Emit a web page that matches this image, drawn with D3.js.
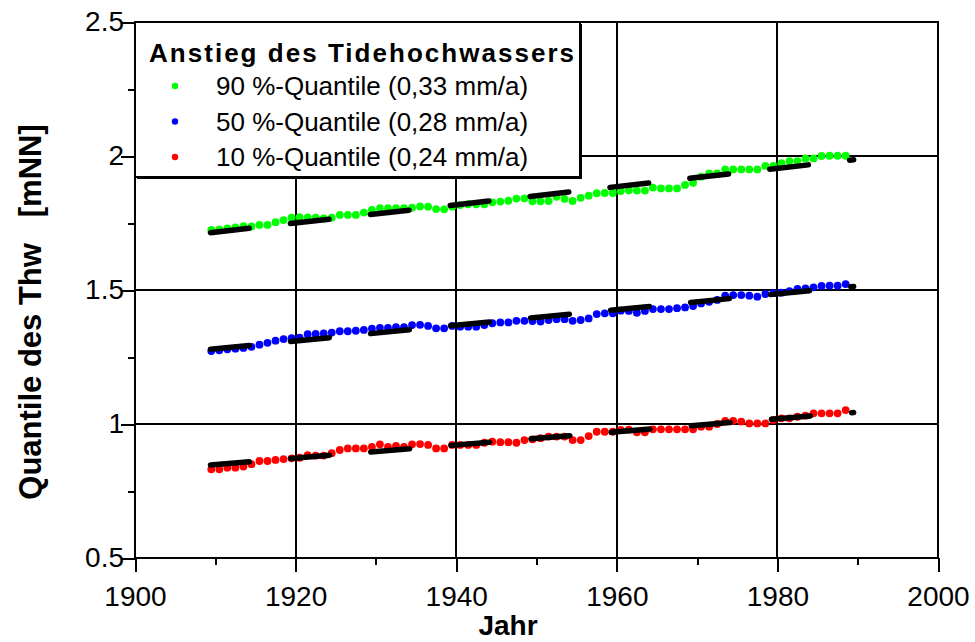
<!DOCTYPE html>
<html>
<head>
<meta charset="utf-8">
<script src="https://cdn.jsdelivr.net/npm/d3@7/dist/d3.min.js"></script>
<style>
  body { margin: 0; background: #fff; }
  svg text { font-family: "Liberation Sans", Arial, sans-serif; fill: #000; }
</style>
</head>
<body>
<div id="chart"></div>
<script>
// yearly Thw quantiles (mNN), hydrological years 1909 - 1988
var years = d3.range(1909, 1989);

var q90 = [
  1.724, 1.726, 1.730, 1.734, 1.738, 1.737, 1.743, 1.743, 1.753, 1.761,
  1.770, 1.772, 1.771, 1.770, 1.767, 1.770, 1.780, 1.780, 1.780, 1.789,
  1.799, 1.805, 1.805, 1.805, 1.805, 1.807, 1.812, 1.811, 1.802, 1.801,
  1.811, 1.817, 1.820, 1.820, 1.820, 1.827, 1.830, 1.833, 1.841, 1.842,
  1.831, 1.831, 1.832, 1.848, 1.840, 1.832, 1.844, 1.852, 1.861, 1.862,
  1.862, 1.869, 1.872, 1.871, 1.871, 1.882, 1.879, 1.879, 1.879, 1.892,
  1.900, 1.923, 1.935, 1.935, 1.950, 1.950, 1.950, 1.950, 1.950, 1.963,
  1.963, 1.973, 1.981, 1.981, 1.991, 1.991, 2.000, 2.001, 2.001, 2.001
];

var q50 = [
  1.272, 1.275, 1.279, 1.281, 1.284, 1.288, 1.296, 1.303, 1.311, 1.317,
  1.320, 1.322, 1.335, 1.336, 1.338, 1.341, 1.346, 1.346, 1.348, 1.351,
  1.356, 1.359, 1.359, 1.361, 1.361, 1.369, 1.370, 1.366, 1.357, 1.357,
  1.366, 1.363, 1.363, 1.363, 1.369, 1.376, 1.379, 1.379, 1.385, 1.385,
  1.384, 1.382, 1.388, 1.391, 1.391, 1.385, 1.388, 1.394, 1.410, 1.413,
  1.413, 1.423, 1.422, 1.415, 1.422, 1.429, 1.429, 1.429, 1.432, 1.435,
  1.440, 1.450, 1.456, 1.463, 1.479, 1.481, 1.481, 1.479, 1.475, 1.485,
  1.488, 1.490, 1.496, 1.504, 1.506, 1.510, 1.515, 1.516, 1.516, 1.522
];

var q10 = [
  0.831, 0.831, 0.837, 0.837, 0.841, 0.850, 0.862, 0.862, 0.866, 0.869,
  0.872, 0.874, 0.884, 0.882, 0.882, 0.891, 0.903, 0.909, 0.909, 0.909,
  0.915, 0.924, 0.915, 0.918, 0.915, 0.924, 0.925, 0.922, 0.909, 0.909,
  0.922, 0.922, 0.922, 0.922, 0.930, 0.934, 0.932, 0.932, 0.930, 0.940,
  0.943, 0.947, 0.953, 0.953, 0.953, 0.940, 0.940, 0.955, 0.971, 0.971,
  0.971, 0.978, 0.979, 0.969, 0.969, 0.980, 0.980, 0.980, 0.980, 0.980,
  0.980, 0.990, 0.990, 1.000, 1.012, 1.012, 1.009, 1.002, 1.002, 1.002,
  1.015, 1.021, 1.021, 1.027, 1.031, 1.040, 1.040, 1.040, 1.040, 1.052
];

// linear trends, start / end of fitted line
var trendYears = [1909.4, 1989.5];
var trend90 = [1.714, 1.986];
var trend50 = [1.279, 1.513];
var trend10 = [0.847, 1.043];

var legendTitle = "Anstieg des Tidehochwassers";
var seriesNames = ["90 %-Quantile (0,33 mm/a)", "50 %-Quantile (0,28 mm/a)", "10 %-Quantile (0,24 mm/a)"];
var seriesColors = ["#00ff00", "#0000ff", "#ff0000"];

var xTicks = [1900, 1920, 1940, 1960, 1980, 2000];
var xMinorTicks = [1910, 1930, 1950, 1970, 1990];
var yTicks = [0.5, 1, 1.5, 2, 2.5];
var yTickLabels = ["0.5", "1", "1.5", "2", "2.5"];
var yMinorTicks = [0.75, 1.25, 1.75, 2.25];
var xTitle = "Jahr";
var yTitle = "Quantile des Thw   [mNN]";

(function() {
  var width = 975, height = 642;
  var margin = { top: 22, right: 37, bottom: 84, left: 135 };
  var svg, x, y, series, trends, legend;

  svg = d3.select("#chart").append("svg")
    .attr("width", width).attr("height", height);

  x = d3.scaleLinear().domain([1900, 2000]).range([margin.left, width - margin.right]);
  y = d3.scaleLinear().domain([0.5, 2.5]).range([height - margin.bottom, margin.top]);

  // grid at the major ticks
  svg.append("g").selectAll("line").data(xTicks.slice(1, -1)).enter().append("line")
    .attr("x1", function(d) { return x(d); }).attr("x2", function(d) { return x(d); })
    .attr("y1", y(0.5)).attr("y2", y(2.5))
    .style("stroke", "#000").style("stroke-width", 2).style("shape-rendering", "crispEdges");
  svg.append("g").selectAll("line").data(yTicks.slice(1, -1)).enter().append("line")
    .attr("x1", x(1900)).attr("x2", x(2000))
    .attr("y1", function(d) { return y(d); }).attr("y2", function(d) { return y(d); })
    .style("stroke", "#000").style("stroke-width", 2).style("shape-rendering", "crispEdges");

  // axes: minor ticks first, then majors with labels
  svg.append("g").attr("transform", "translate(0," + y(0.5) + ")")
    .call(d3.axisBottom(x).tickValues(xMinorTicks).tickSize(7).tickFormat(""));
  svg.append("g").attr("class", "axis-x").attr("transform", "translate(0," + y(0.5) + ")")
    .call(d3.axisBottom(x).tickValues(xTicks).tickSize(14).tickPadding(14).tickFormat(d3.format("d")));
  svg.append("g").attr("transform", "translate(" + x(1900) + ",0)")
    .call(d3.axisLeft(y).tickValues(yMinorTicks).tickSize(7).tickFormat(""));
  svg.append("g").attr("class", "axis-y").attr("transform", "translate(" + x(1900) + ",0)")
    .call(d3.axisLeft(y).tickValues(yTicks).tickSize(14).tickPadding(-3)
      .tickFormat(function(d, i) { return yTickLabels[i]; }));

  svg.selectAll(".domain").remove();
  svg.selectAll(".tick line").style("stroke", "#000").style("stroke-width", 2)
    .style("shape-rendering", "crispEdges");
  svg.selectAll(".axis-x text, .axis-y text")
    .style("font-size", "28px").style("font-family", "'Liberation Sans', Arial, sans-serif")
    .style("fill", "#000");

  // frame
  svg.append("rect")
    .attr("x", x(1900)).attr("y", y(2.5))
    .attr("width", x(2000) - x(1900)).attr("height", y(0.5) - y(2.5))
    .style("fill", "none").style("stroke", "#000").style("stroke-width", 2.5)
    .style("shape-rendering", "crispEdges");

  // points (plotted at mid-year)
  series = [q90, q50, q10];
  series.forEach(function(vals, k) {
    svg.append("g").selectAll("circle").data(vals).enter().append("circle")
      .attr("cx", function(d, i) { return x(years[i] + 0.5); })
      .attr("cy", function(d) { return y(d); })
      .attr("r", 3.9)
      .style("fill", seriesColors[k]);
  });

  // dashed trend lines
  trends = [trend90, trend50, trend10];
  trends.forEach(function(t) {
    svg.append("path")
      .attr("d", d3.line()
        .x(function(d, i) { return x(trendYears[i]); })
        .y(function(d) { return y(d); })(t))
      .style("fill", "none").style("stroke", "#000").style("stroke-width", 5.5)
      .style("stroke-linecap", "round").style("stroke-dasharray", "39 41.4");
  });

  // legend box over the upper left corner
  legend = svg.append("g");
  legend.append("rect")
    .attr("x", x(1900) + 2).attr("y", y(2.5) + 2).attr("width", 445).attr("height", 155)
    .style("fill", "#000");
  legend.append("rect")
    .attr("x", x(1900)).attr("y", y(2.5)).attr("width", 445).attr("height", 155)
    .style("fill", "#fff").style("stroke", "#000").style("stroke-width", 2);
  legend.append("text")
    .attr("x", x(1900) + 14).attr("y", 62)
    .attr("textLength", 425).attr("lengthAdjust", "spacing")
    .style("font-size", "26px").style("font-weight", "bold")
    .text(legendTitle);
  seriesNames.forEach(function(name, k) {
    var base = 95 + k * 35.5;
    legend.append("circle").attr("cx", 175).attr("cy", base - 9).attr("r", 3.2)
      .style("fill", seriesColors[k]);
    legend.append("text").attr("x", 216).attr("y", base)
      .style("font-size", "26px").text(name);
  });

  // axis titles
  svg.append("text")
    .attr("x", 508).attr("y", 635)
    .attr("text-anchor", "middle")
    .style("font-size", "28px").style("font-weight", "bold")
    .text(xTitle);
  svg.append("text")
    .attr("transform", "translate(41," + 312 + ") rotate(-90)")
    .attr("text-anchor", "middle")
    .style("font-size", "31px").style("font-weight", "bold")
    .style("white-space", "pre")
    .text(yTitle);
})();
</script>
</body>
</html>
